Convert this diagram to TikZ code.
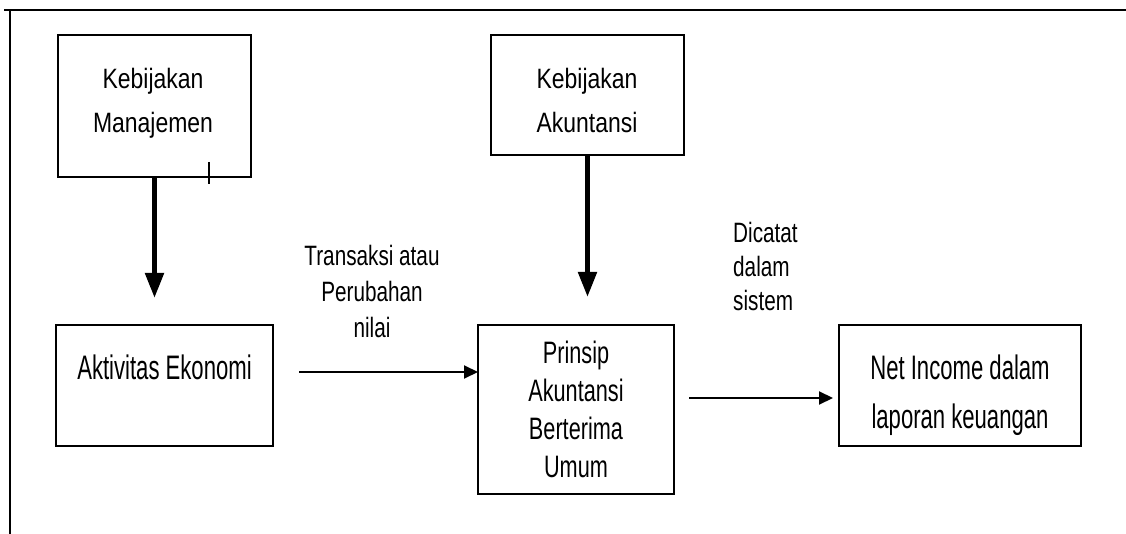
\documentclass[tikz,border=0pt]{standalone}
\usepackage{fontspec}
\setmainfont{Liberation Sans}
\newfontfamily\fW{Liberation Sans}[FakeStretch=0.82]
\newfontfamily\fM{Liberation Sans}[FakeStretch=0.74]
\newfontfamily\fP{Liberation Sans}[FakeStretch=0.7]
\newfontfamily\fN{Liberation Sans}[FakeStretch=0.65]
\usetikzlibrary{arrows.meta}
\tikzset{
  box/.style={draw, line width=2pt, inner sep=0pt, outer sep=0pt},
  uptext/.style={inner sep=0pt, align=center, font=\fW\fontsize{28}{44}\selectfont},
  midtext/.style={inner sep=0pt, align=center, font=\fP\fontsize{31}{37.7}\selectfont},
  lowtext/.style={inner sep=0pt, align=center, font=\fN\fontsize{34}{49}\selectfont},
  lbltext/.style={inner sep=0pt, font=\fM\fontsize{28}{36}\selectfont},
  thickarrow/.style={line width=5pt, -{Triangle[length=25pt,width=18pt]}},
  thinarrow/.style={line width=2pt, -{Triangle[length=14pt,width=13pt]}},
  frame/.style={line width=2.4pt}
}
\begin{document}
\begin{tikzpicture}[x=1pt,y=-1pt]
\useasboundingbox (0,0) rectangle (1126,534);
% frame
\coordinate (fl) at (4,10);
\coordinate (fr) at (1126,10);
\coordinate (ft) at (10,10);
\coordinate (fb) at (10,534);
\draw[frame] (fl) -- (fr);
\draw[frame] (ft) -- (fb);

% boxes
\node[box, minimum width=193, minimum height=142] (b1) at (154.5,106) {};
\node[box, minimum width=193, minimum height=120] (b2) at (587.5,95) {};
\node[box, minimum width=217, minimum height=121] (act) at (164.5,385.5) {};
\node[box, minimum width=196, minimum height=169] (pr) at (576,409.5) {};
\node[box, minimum width=242, minimum height=121] (net) at (960,385.5) {};

% texts
\node[uptext] (b1t) at (153,102) {\strut Kebijakan\\\strut Manajemen};
\node[uptext] (b2t) at (587,102) {\strut Kebijakan\\\strut Akuntansi};
\node[lowtext] (actt) at (164.5,370) {\strut Aktivitas Ekonomi};
\node[midtext] (prt) at (576,413) {\strut Prinsip\\\strut Akuntansi\\\strut Berterima\\\strut Umum};
\node[lowtext] (nett) at (960,394) {\strut Net Income dalam\\\strut laporan keuangan};
\node[lbltext, align=center] (l1) at (372,294) {\strut Transaksi atau\\\strut Perubahan\\\strut nilai};
\node[lbltext, align=left, anchor=west, font=\fM\fontsize{28}{34}\selectfont] (l2) at (733,270) {\strut Dicatat\\\strut dalam\\\strut sistem};

% stray tick mark
\coordinate (tk1) at (209,162);
\coordinate (tk2) at (209,184);
\draw[line width=1.5pt] (tk1) -- (tk2);

% arrows
\coordinate (a1e) at (155,298);
\coordinate (a2e) at (587,297);
\draw[thickarrow] (b1.south) -- (b1.south |- a1e);
\draw[thickarrow] (b2.south) -- (b2.south |- a2e);
\coordinate (a3s) at (299,372);
\draw[thinarrow] (a3s) -- (a3s -| pr.west);
\coordinate (a4s) at (689,398);
\draw[thinarrow, shorten >=6pt] (a4s) -- (a4s -| net.west);
\end{tikzpicture}
\end{document}
